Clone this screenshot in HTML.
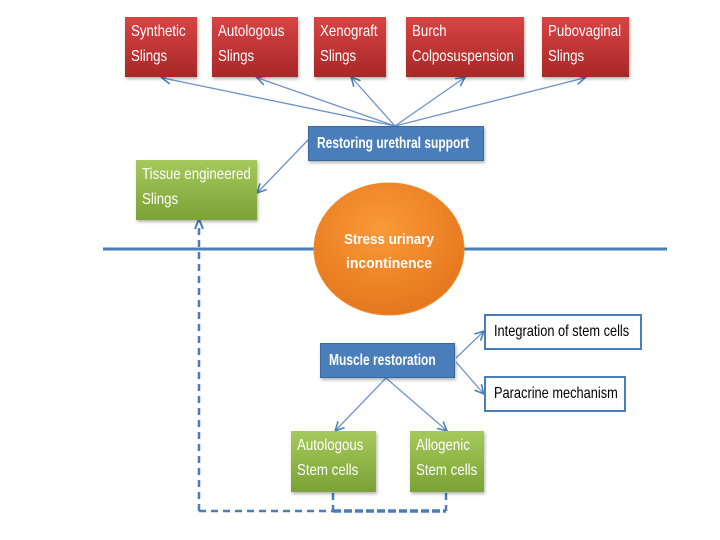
<!DOCTYPE html>
<html><head><meta charset="utf-8"><style>
body{margin:0;background:#fff;width:720px;height:540px;overflow:hidden;position:relative;font-family:"Liberation Sans",sans-serif;}
.b{position:absolute;box-sizing:border-box;color:#fff;font-size:16px;line-height:25px;padding:2px 0 0 6px;box-shadow:1px 2px 3px rgba(0,0,0,.3);white-space:nowrap;overflow:visible;}
.b span{display:inline-block;transform:scaleX(0.83);transform-origin:0 0;}
.r{background:linear-gradient(#d84444,#a82828);}
.g{background:linear-gradient(#a6c95c,#7aa234);}
.u{background:#4a7ebb;border:1px solid #3a68a0;font-weight:bold;line-height:33px;padding:0 0 0 8px;}
.u span{transform:scaleX(0.75);}
.w{background:#fff;color:#000;border:2px solid #4a7ebb;box-shadow:none;line-height:32px;padding:0 0 0 8px;}
.w span{transform:scaleX(0.8);}
svg{position:absolute;left:0;top:0}
</style></head><body>
<svg width="720" height="540">
<defs><marker id="a" markerWidth="8" markerHeight="8" refX="6" refY="4" orient="auto"><path d="M0,0.5 L7,4 L0,7.5" fill="none" stroke="#4a7ebb" stroke-width="1.2"/></marker>
<radialGradient id="o" cx="0.45" cy="0.35" r="0.7"><stop offset="0" stop-color="#f99a38"/><stop offset="1" stop-color="#e4741c"/></radialGradient></defs>
<line x1="103" y1="249" x2="667" y2="249" stroke="#4a7ebb" stroke-width="3"/>
<g stroke="#6f93c8" stroke-width="1.3" marker-end="url(#a)">
<line x1="395" y1="126" x2="163" y2="78"/>
<line x1="395" y1="126" x2="258" y2="78"/>
<line x1="395" y1="126" x2="352" y2="78"/>
<line x1="395" y1="126" x2="464" y2="78"/>
<line x1="395" y1="126" x2="584" y2="78"/>
<line x1="308" y1="140" x2="258" y2="192"/>
<line x1="456" y1="358" x2="483" y2="332"/>
<line x1="456" y1="362" x2="483" y2="393"/>
<line x1="386" y1="378" x2="336" y2="430"/>
<line x1="386" y1="378" x2="446" y2="430"/>
</g>
<g stroke="#4a7ebb" stroke-width="2.5" stroke-dasharray="7,5" fill="none">
<path d="M199 511 V226"/>
<path d="M199 511 H333"/>
<path d="M333 493 V511"/>
<path d="M446 493 V511"/>
</g>
<path d="M333 511 H446" stroke="#4a7ebb" stroke-width="3.5" stroke-dasharray="8,3"/>
<path d="M195 229 L199 219 L203 229" fill="none" stroke="#4a7ebb" stroke-width="2"/>
<ellipse cx="389" cy="249" rx="75" ry="66" fill="url(#o)" stroke="#f1892a" stroke-width="1"/>
<text x="389" y="244" fill="#fff" font-size="15" font-weight="bold" text-anchor="middle" font-family="Liberation Sans, sans-serif" textLength="90" lengthAdjust="spacingAndGlyphs">Stress urinary</text>
<text x="389" y="268" fill="#fff" font-size="15" font-weight="bold" text-anchor="middle" font-family="Liberation Sans, sans-serif" textLength="86" lengthAdjust="spacingAndGlyphs">incontinence</text>
</svg>
<div class="b r" style="left:125px;top:17px;width:72px;height:60px"><span>Synthetic<br>Slings</span></div>
<div class="b r" style="left:212px;top:17px;width:86px;height:60px"><span>Autologous<br>Slings</span></div>
<div class="b r" style="left:314px;top:17px;width:72px;height:60px"><span>Xenograft<br>Slings</span></div>
<div class="b r" style="left:406px;top:17px;width:118px;height:60px"><span>Burch<br>Colposuspension</span></div>
<div class="b r" style="left:542px;top:17px;width:87px;height:60px"><span>Pubovaginal<br>Slings</span></div>
<div class="b u" style="left:308px;top:126px;width:176px;height:35px"><span>Restoring urethral support</span></div>
<div class="b g" style="left:136px;top:160px;width:121px;height:60px"><span>Tissue engineered<br>Slings</span></div>
<div class="b u" style="left:320px;top:343px;width:135px;height:35px"><span>Muscle restoration</span></div>
<div class="b w" style="left:484px;top:314px;width:158px;height:36px"><span>Integration of stem cells</span></div>
<div class="b w" style="left:484px;top:376px;width:142px;height:36px"><span>Paracrine mechanism</span></div>
<div class="b g" style="left:291px;top:431px;width:85px;height:61px"><span>Autologous<br>Stem cells</span></div>
<div class="b g" style="left:410px;top:431px;width:74px;height:61px"><span>Allogenic<br>Stem cells</span></div>
</body></html>
